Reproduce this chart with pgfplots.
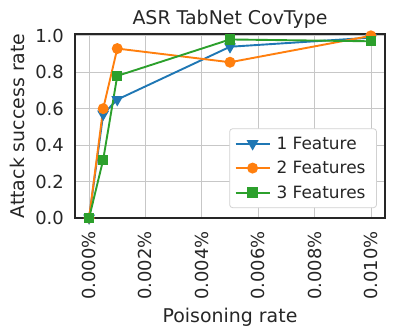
\documentclass[border=0pt]{standalone}
\usepackage{fontspec}
\setmainfont{DejaVu Sans}
\usepackage{pgfplots}
\pgfplotsset{compat=1.18}

\definecolor{c1}{HTML}{1F77B4}
\definecolor{c2}{HTML}{FF7F0E}
\definecolor{c3}{HTML}{2CA02C}

\begin{document}
\begin{tikzpicture}
\path[use as bounding box] (-75bp,-118bp) rectangle (320bp,218bp);
\begin{axis}[
    at={(0,0)}, anchor=south west,
    scale only axis,
    width=310bp, height=184bp,
    xmin=-0.0005, xmax=0.0105,
    ymin=0, ymax=1.01,
    scaled x ticks=false,
    xtick={0,0.002,0.004,0.006,0.008,0.01},
    xticklabels={0.000\%,0.002\%,0.004\%,0.006\%,0.008\%,0.010\%},
    ytick={0,0.2,0.4,0.6,0.8,1.0},
    yticklabels={0.0,0.2,0.4,0.6,0.8,1.0},
    xticklabel shift=13bp,
    yticklabel shift=11bp,
    x tick label style={rotate=90, anchor=east, inner sep=0pt,
        font=\fontsize{18}{20}\selectfont, text=black!85},
    y tick label style={anchor=east, inner sep=0pt,
        font=\fontsize{18}{20}\selectfont, text=black!85},
    major tick length=0pt,
    grid=major,
    major grid style={color=black!22, line width=0.8bp},
    axis line style={line width=1.2bp, color=black!85},
    title={ASR TabNet CovType},
    every axis title/.style={at={(0.5,1)}, anchor=base, yshift=9bp,
        font=\fontsize{19}{21}\selectfont, text=black!85},
    xlabel={Poisoning rate},
    ylabel={Attack success rate},
    every axis x label/.style={at={(0.5,0)}, anchor=base, yshift=-104bp,
        font=\fontsize{19}{21}\selectfont, text=black!85},
    every axis y label/.style={at={(0,0.5)}, xshift=-50bp, rotate=90, anchor=base,
        font=\fontsize{19}{21}\selectfont, text=black!85},
    legend style={at={(0.974,0.054)}, anchor=south east,
        font=\fontsize{17}{19}\selectfont, text=black!85,
        draw=black!18, line width=0.8bp, rounded corners=3pt,
        row sep=6.5bp, inner xsep=5bp, inner ysep=6bp,
        nodes={inner xsep=6bp}},
    legend cell align=left,
    legend image code/.code={
        \draw[mark repeat=2, mark phase=2] plot coordinates {(0bp,0bp) (17bp,0bp) (34bp,0bp)};
    },
    every axis plot/.append style={line width=1.9bp},
]
\addplot[color=c1, mark=triangle*, mark size=5bp, mark options={rotate=180}] coordinates {
    (0,0) (0.0005,0.57) (0.001,0.65) (0.005,0.94) (0.01,0.99)
};
\addlegendentry{1 Feature}
\addplot[color=c2, mark=*, mark size=4.5bp] coordinates {
    (0,0) (0.0005,0.60) (0.001,0.93) (0.005,0.855) (0.01,1.0)
};
\addlegendentry{2 Features}
\addplot[color=c3, mark=square*, mark size=4.2bp] coordinates {
    (0,0) (0.0005,0.32) (0.001,0.78) (0.005,0.98) (0.01,0.97)
};
\addlegendentry{3 Features}
\end{axis}
\end{tikzpicture}
\end{document}
